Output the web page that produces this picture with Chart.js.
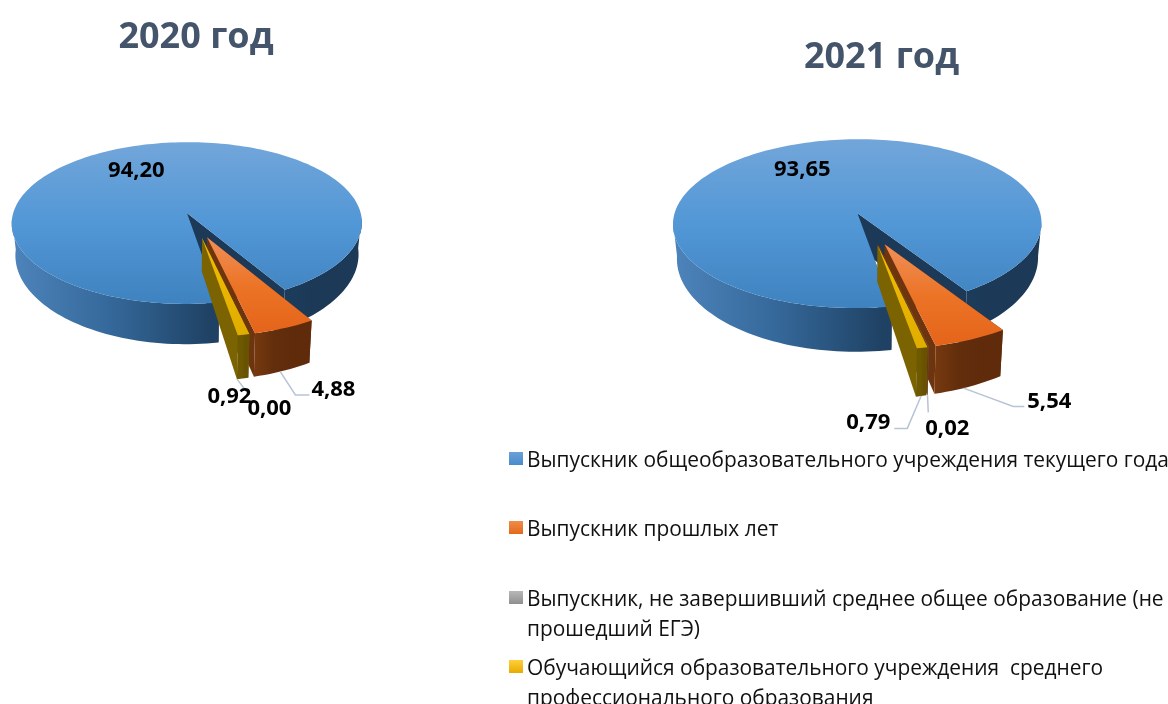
<!DOCTYPE html>
<html>
<head>
<meta charset="utf-8">
<script src="https://cdn.jsdelivr.net/npm/chart.js@4"></script>
<style>
    html, body { margin: 0; padding: 0; background: #fff; }
    body { width: 1168px; height: 704px; position: relative; overflow: hidden; font-family: "Open Sans", sans-serif; }
    canvas { position: absolute; top: 0; }
    #legend { position: absolute; left: 509px; top: 444px; width: 659px; color: #111; font-size: 20.9px; line-height: 30px; }
    .item { position: relative; padding-left: 18px; height: 69.4px; white-space: pre; }
    .item i { position: absolute; left: 0; top: 8px; width: 14px; height: 13px; }
</style>
</head>
<body>
<canvas id="pie2020" width="392" height="445" style="left:0"></canvas>
<canvas id="pie2021" width="573" height="445" style="left:595px"></canvas>
<div id="legend"></div>
<script>
const categories = [
    'Выпускник общеобразовательного учреждения текущего года',
    'Выпускник прошлых лет',
    'Выпускник, не завершивший среднее общее образование (не\nпрошедший ЕГЭ)',
    'Обучающийся образовательного учреждения  среднего\nпрофессионального образования'
];
const values2020 = [94.20, 4.88, 0.00, 0.92];
const values2021 = [93.65, 5.54, 0.02, 0.79];

const baseColors = ['#5b9bd5', '#ed7d31', '#a5a5a5', '#ffc000'];
const topColors = [['#72a6da', '#5297d6', '#3f82c0'], ['#ef9059', '#ec7427', '#e4641a'], ['#b5b5b5', '#a5a5a5', '#909090'], ['#f2bf00', '#eab500', '#e0ad00']];
const sideColors = [['#4d84bb', '#35689a', '#1f4264', '#1c3a58'], ['#76390f', '#632e0c', '#5f2b0b', '#5f2b0b'], ['#666', '#555', '#444', '#444'], ['#6e5900', '#6e5900', '#665200', '#665200']];
const wallColors = ['#1c3a58', '#6d340e', '#6d340e', '#7a6300'];
const markerColors = [['#6ba0d6', '#4a8ccb'], ['#f08c4a', '#e2691a'], ['#b8b8b8', '#8f8f8f'], ['#ffcf3a', '#e6ab00']];

// lay the pie on its side: q = perspective, k = tilt, depth = wall height
const pie3d = {
    id: 'pie3d',
    beforeDatasetsDraw(chart, args, v) {
        const ctx = chart.ctx;
        const arcs = chart.getDatasetMeta(0).data;
        arcs.forEach((arc, i) => drawSlice(ctx, arc, i, v));
        return false;
    },
    afterDraw(chart, args, v) {
        const ctx = chart.ctx;
        const arcs = chart.getDatasetMeta(0).data;
        const values = chart.data.datasets[0].data;
        ctx.save();
        v.labels.forEach((lab, i) => {
            const x = v.ox + lab.dx, y = v.oy + lab.dy;
            if (lab.leader) {
                const a = anchor(arcs[i], v, lab.t);
                ctx.beginPath();
                ctx.moveTo(a.x, a.y);
                lab.leader.forEach(p => ctx.lineTo(x + p[0], y + p[1]));
                ctx.strokeStyle = '#b7c4d6';
                ctx.lineWidth = 1.5;
                ctx.stroke();
            }
        });
        ctx.font = 'bold 22px "Open Sans"';
        ctx.fillStyle = '#000';
        ctx.textAlign = 'center';
        ctx.textBaseline = 'middle';
        v.labels.forEach((lab, i) => {
            ctx.fillText(values[i].toFixed(2).replace('.', ','), v.ox + lab.dx, v.oy + lab.dy);
        });
        ctx.restore();
    }
};

function project(v, wx, wy, low) {
    const s = 1 / (1 - v.q * wy);
    const f = low ? 0.98 : 1;
    return { x: v.ox + wx * s * f, y: v.oy + v.k * wy * s + (low ? v.depth * s * s : 0) };
}

function sliceOutline(arc, v) {
    const a0 = arc.startAngle, a1 = arc.endAngle, r = arc.outerRadius;
    const mid = (a0 + a1) / 2, off = arc.options.offset || 0;
    const cx = Math.cos(mid) * off, cy = Math.sin(mid) * off;
    const n = Math.max(2, Math.ceil((a1 - a0) / 0.03));
    const rim = [];
    for (let j = 0; j <= n; j++) {
        const a = a0 + (a1 - a0) * j / n;
        rim.push([cx + Math.cos(a) * r, cy + Math.sin(a) * r]);
    }
    return { tip: [cx, cy], rim: rim };
}

function anchor(arc, v, t) {
    const o = sliceOutline(arc, v);
    const p = o.rim[Math.round((o.rim.length - 1) * t)];
    return project(v, p[0], p[1], true);
}

function band(ctx, v, run, color) {
    ctx.beginPath();
    run.forEach((p, j) => {
        const a = project(v, p[0], p[1], false);
        if (j) ctx.lineTo(a.x, a.y); else ctx.moveTo(a.x, a.y);
    });
    run.slice().reverse().forEach(p => {
        const a = project(v, p[0], p[1], true);
        ctx.lineTo(a.x, a.y);
    });
    ctx.closePath();
    ctx.fillStyle = color;
    ctx.fill();
}

function drawSlice(ctx, arc, i, v) {
    if (arc.endAngle - arc.startAngle < 0.0005) return;
    const o = sliceOutline(arc, v);
    const pts = o.rim.map(p => project(v, p[0], p[1], false));
    const xs = pts.map(p => p.x), ys = pts.map(p => p.y).concat(project(v, o.tip[0], o.tip[1], false).y);
    const minX = Math.min(...xs), maxX = Math.max(...xs);

    const side = ctx.createLinearGradient(minX, 0, maxX, 0);
    sideColors[i].forEach((c, j) => side.addColorStop(j / 3 * (i === 0 ? 0.85 : 1), c));

    band(ctx, v, [o.tip, o.rim[0]], wallColors[i]);
    band(ctx, v, [o.tip, o.rim[o.rim.length - 1]], wallColors[i]);

    // only the near part of the rim is seen
    let run = [];
    o.rim.forEach(p => {
        if (p[1] > -arc.outerRadius * 0.1) {
            run.push(p);
        } else {
            if (run.length > 1) band(ctx, v, run, side);
            run = [];
        }
    });
    if (run.length > 1) band(ctx, v, run, side);

    const top = ctx.createLinearGradient(0, Math.min(...ys), 0, Math.max(...ys));
    topColors[i].forEach((c, j) => top.addColorStop(j / 2, c));
    const t = project(v, o.tip[0], o.tip[1], false);
    ctx.beginPath();
    ctx.moveTo(t.x, t.y);
    pts.forEach(p => ctx.lineTo(p.x, p.y));
    ctx.closePath();
    ctx.fillStyle = top;
    ctx.fill();
}

function makePie(id, title, titleTop, values, view) {
    return new Chart(document.getElementById(id), {
        type: 'pie',
        plugins: [pie3d],
        data: {
            labels: categories,
            datasets: [{ data: values, backgroundColor: baseColors, borderWidth: 0, offset: view.explode }]
        },
        options: {
            responsive: false,
            animation: false,
            rotation: view.rotation,
            radius: view.radius,
            events: [],
            plugins: {
                legend: { display: false },
                tooltip: { enabled: false },
                title: {
                    display: true,
                    text: title,
                    color: '#44546a',
                    font: { family: '"Open Sans"', size: 36, weight: 'bold' },
                    padding: { top: titleTop, bottom: 0 }
                },
                pie3d: view
            }
        }
    });
}

makePie('pie2020', '2020 год', 16, values2020, {
    ox: 196.4, oy: 225, k: 0.467, q: 0.00072, depth: 32, radius: 177, explode: 28, rotation: 170.3,
    labels: [
        { dx: -60, dy: -54 },
        { dx: 137, dy: 165, t: 0.55, leader: [[-38, 5], [-24, 5]] },
        { dx: 73, dy: 184 },
        { dx: 33, dy: 172, t: 0.8, leader: [[20, -2]] }
    ]
});

makePie('pie2021', '2021 год', 36, values2021, {
    ox: 275.3, oy: 228.4, k: 0.465, q: 0.00068, depth: 35, radius: 187, explode: 36, rotation: 170,
    labels: [
        { dx: -68, dy: -59 },
        { dx: 179, dy: 173, t: 0.55, leader: [[-36, 5], [-25, 5]] },
        { dx: 77, dy: 200, t: 0.5, leader: [[-19, -16]] },
        { dx: -2, dy: 194, t: 0.4, leader: [[39, 6], [26, 6]] }
    ]
});

const legend = document.getElementById('legend');
categories.forEach((name, i) => {
    const item = document.createElement('div');
    item.className = 'item';
    item.textContent = name;
    const mark = document.createElement('i');
    mark.style.background = 'linear-gradient(' + markerColors[i][0] + ',' + markerColors[i][1] + ')';
    item.appendChild(mark);
    legend.appendChild(item);
});
</script>
</body>
</html>
